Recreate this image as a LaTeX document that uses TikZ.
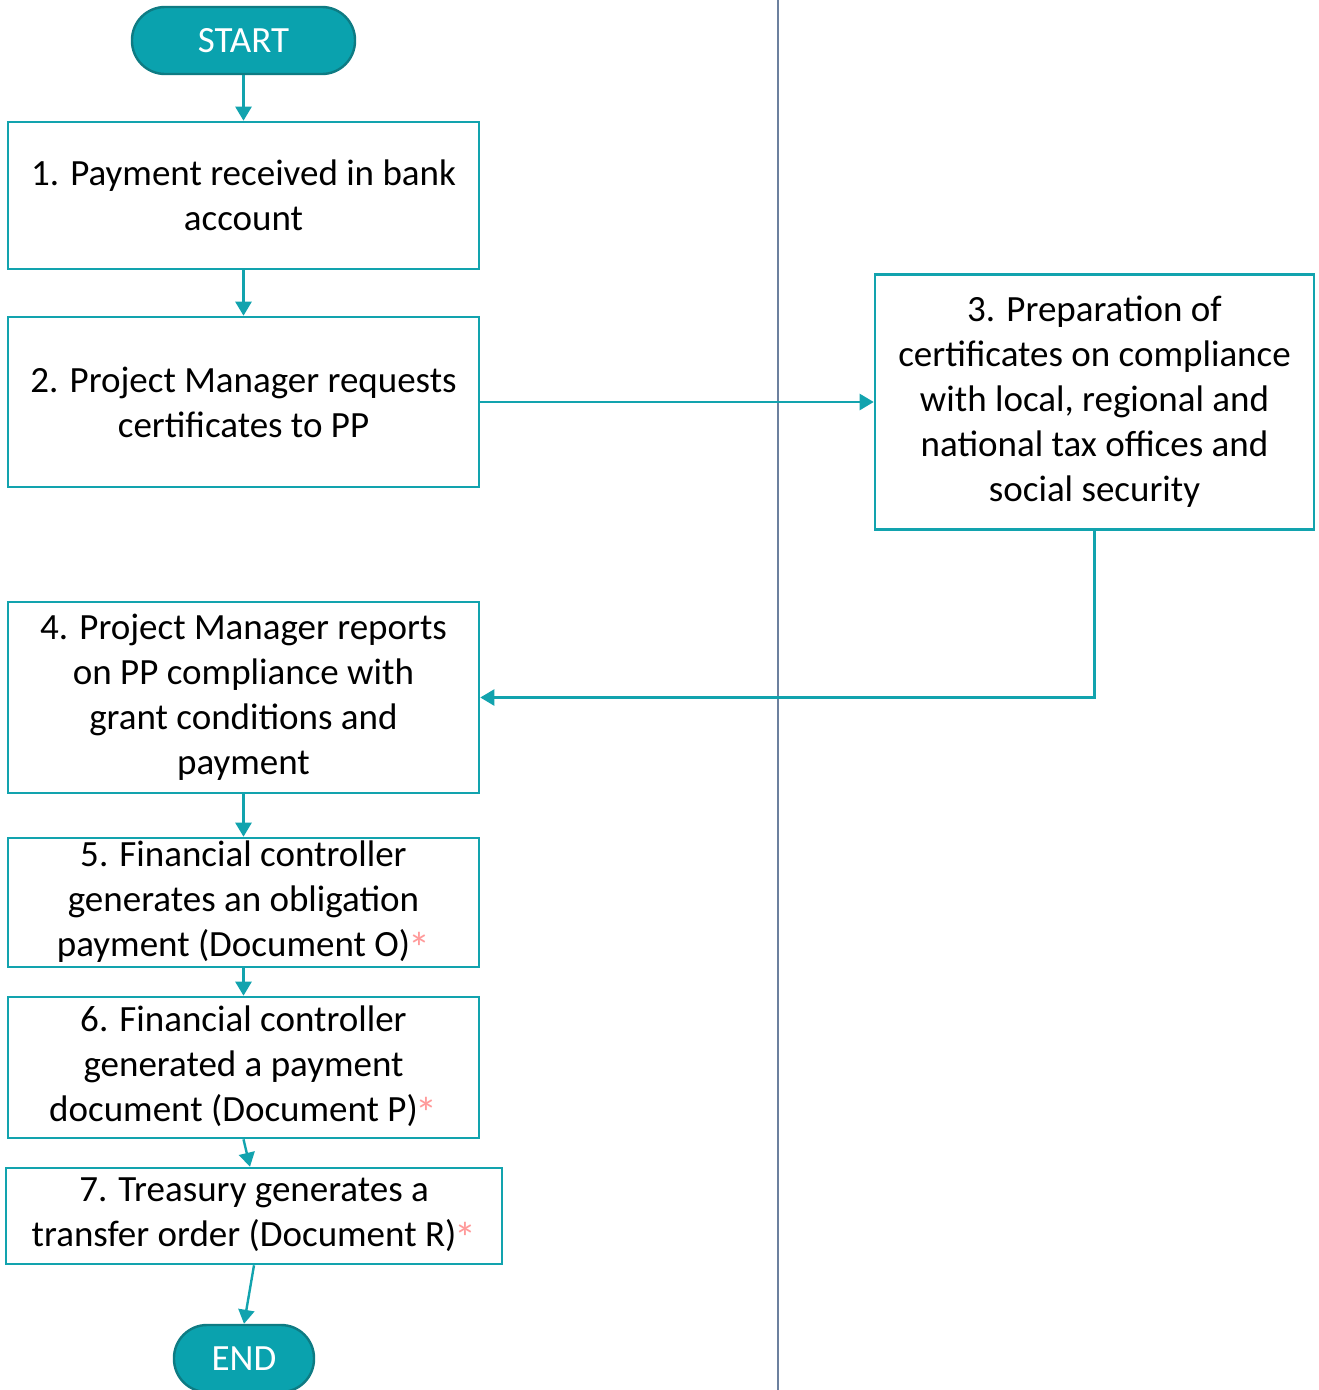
\documentclass[tikz,border=0pt]{standalone}
\usepackage{fontspec}
\setmainfont{Carlito}
\usetikzlibrary{arrows.meta}
\definecolor{flowline}{HTML}{12A3AE}
\definecolor{termfill}{HTML}{0AA2AE}
\definecolor{termedge}{HTML}{0E7B83}
\definecolor{laneline}{HTML}{6C809E}
\definecolor{starpink}{HTML}{FF9A9A}
\newcommand{\reqstar}{\kern-2pt\raisebox{-7pt}{\textcolor{starpink}{\fontsize{44}{45}\selectfont*}}}

\begin{document}
\begin{tikzpicture}[x=1pt, y=-1pt,
    box/.style={draw=flowline, line width=2.6pt, align=center, inner sep=0pt,
      font=\fontsize{37}{45}\selectfont},
    term/.style={draw=termedge, fill=termfill, line width=2.4pt, rounded corners=33pt,
      inner sep=0pt, text=white, font=\fontsize{37}{45}\selectfont},
    flow/.style={draw=flowline, line width=2.4pt, -{Triangle[length=14pt,width=16pt]}}]
      \useasboundingbox (0, 0) rectangle (1319, 1390);
      \coordinate (lanetop) at (778, 0);
      \coordinate (lanebot) at (778, 1390);
      \draw [laneline, line width=1.3pt] (lanetop) -- (lanebot);

      \node [term, minimum width=223pt, minimum height=67pt] (start) at (243.5, 40.5) {START};
      \node [box, minimum width=471pt, minimum height=147pt] (b1) at (243.5, 195.5)
        {1. Payment received in bank\\account};
      \node [box, minimum width=471pt, minimum height=170pt] (b2) at (243.5, 402)
        {2. Project Manager requests\\certificates to PP};
      \node [box, minimum width=439pt, minimum height=255pt] (b3) at (1094.5, 402)
        {3. Preparation of\\certificates on compliance\\with local, regional and\\national tax offices and\\social security};
      \node [box, minimum width=471pt, minimum height=191pt] (b4) at (243.5, 697.5)
        {4. Project Manager reports\\on PP compliance with\\grant conditions and\\payment};
      \node [box, minimum width=471pt, minimum height=129pt] (b5) at (243.5, 902.5)
        {5. Financial controller\\generates an obligation\\payment (Document O)\reqstar};
      \node [box, minimum width=471pt, minimum height=141pt] (b6) at (243.5, 1067.5)
        {6. Financial controller\\generated a payment\\document (Document P)\reqstar};
      \node [box, minimum width=496pt, minimum height=96pt] (b7) at (254, 1216)
        {7. Treasury generates a\\transfer order (Document R)\reqstar};
      \node [term, minimum width=140pt, minimum height=67pt] (end) at (244, 1358.5) {END};

      \draw [flow] (start) -- (b1);
      \draw [flow] (b1) -- (b2);
      \draw [flow] (b2.east) -- (b3.west);
      \draw [flow] (b3.south) |- (b4.east);
      \draw [flow] (b4) -- (b5);
      \draw [flow] (b5) -- (b6);
      \draw [flow] (b6.south) -- ([xshift=-4pt]b7.north);
      \draw [flow] (b7.south) -- (end.north);
\end{tikzpicture}
\end{document}
